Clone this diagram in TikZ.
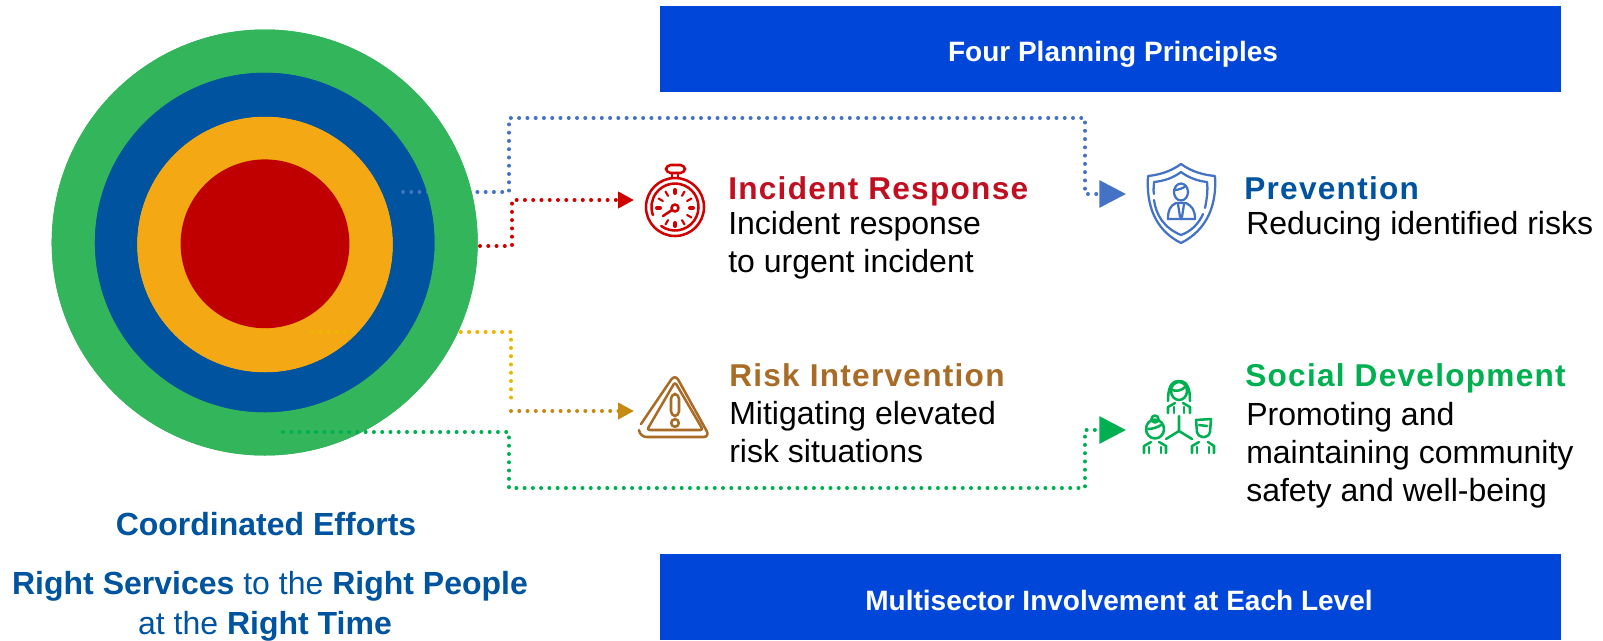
\documentclass[tikz,border=0pt]{standalone}
\usepackage{fontspec}
\setmainfont{Liberation Sans}
\newfontfamily\headfont[LetterSpace=4]{Liberation Sans}
\usetikzlibrary{arrows.meta}
\definecolor{ringgreen}{HTML}{33B55B}
\definecolor{ringblue}{HTML}{00549F}
\definecolor{ringorange}{HTML}{F4A813}
\definecolor{ringred}{HTML}{C00000}
\definecolor{barblue}{HTML}{0047D9}
\definecolor{linkblue}{HTML}{4472C4}
\definecolor{linkred}{HTML}{D00000}
\definecolor{linkyellow}{HTML}{F0B400}
\definecolor{linkgold}{HTML}{C58A10}
\definecolor{linkgreen}{HTML}{00B050}
\definecolor{headred}{HTML}{C00F20}
\definecolor{headbrown}{HTML}{A86C26}
\tikzset{
  x=0.75pt,y=-0.75pt,
  disc/.style={circle,inner sep=0pt,outer sep=0pt},
  bar/.style={fill=barblue,text=white,inner sep=0pt,outer sep=0pt,font=\bfseries\fontsize{21}{24}\selectfont},
  link/.style={line width=3pt,line cap=round,dash pattern=on 0pt off 6.2pt},
  bigtip/.style={-{Triangle[length=20pt,width=20pt]}},
  smalltip/.style={-{Triangle[length=12pt,width=12pt]}},
  head/.style={anchor=base west,inner sep=0pt,font=\headfont\bfseries\fontsize{23.7}{28}\selectfont},
  body/.style={anchor=base west,inner sep=0pt,align=left,font=\fontsize{24}{28.5}\selectfont},
  caption/.style={anchor=base,inner sep=0pt,text=ringblue,font=\fontsize{24}{28}\selectfont},
  icon/.style={line width=1.9pt,line cap=round,line join=round},
}
\begin{document}
\begin{tikzpicture}
\useasboundingbox (0,0) rectangle (1603,640);
% rings
\node[disc,fill=ringgreen,minimum size=319.5pt] (green) at (264.7,242.5) {};
\node[disc,fill=ringblue,minimum size=255pt] (blue) at (264.7,242.5) {};
\node[disc,fill=ringorange,minimum size=192pt] (orange) at (265,244.5) {};
\node[disc,fill=ringred,minimum size=126.6pt] (red) at (265,243.8) {};
% anchors of the connectors
\coordinate (bs) at (403,192);
\coordinate (rs) at (480,246);
\coordinate (ys) at (312,332);
\coordinate (gs) at (283,432);
\coordinate (bt) at (1126,194);
\coordinate (rt) at (634,200);
\coordinate (yt) at (634,411);
\coordinate (gt) at (1126,430);
\coordinate (ym) at (511,405);
\coordinate (yn) at (511,411);
% yellow runs under the blue and green rings
\draw[link,draw=linkyellow] (ys) -| (ym);
\fill[ringblue,even odd rule] (265,244.5) circle[radius=128] (264.7,242.5) circle[radius=170];
\draw[link,draw=linkblue,bigtip] (bs) -- (509,192) -- (509,118) -- (1085,118) -- (1085,194) -- (bt);
\fill[ringgreen,even odd rule] (264.7,242.5) circle[radius=170] (264.7,242.5) circle[radius=213];
\draw[link,draw=linkgold,smalltip] (yn) -- (yt);
\draw[link,draw=linkred,smalltip] (rs) -- (512,246) -- (512,200) -- (rt);
\draw[link,draw=linkgreen,bigtip] (gs) -- (509,432) -- (509,488) -- (1085,488) -- (1085,430) -- (gt);
% bars
\node[bar,minimum width=676pt,minimum height=64.5pt] (top) at (1110.5,49) {};
\node[bar] (toptext) at (1113,54) {Four Planning Principles};
\node[bar,minimum width=676pt,minimum height=64.5pt] (bottom) at (1110.5,597) {};
\node[bar] (bottomtext) at (1119,600) {Multisector Involvement at Each Level};
% text
\node[head,text=headred] (h1) at (728,199) {Incident Response};
\node[body] (b1) at (728,272) {Incident response\\to urgent incident};
\node[head,text=ringblue] (h2) at (1244,199) {Prevention};
\node[body] (b2) at (1246,234) {Reducing identified risks};
\node[head,text=headbrown] (h3) at (729,386) {Risk Intervention};
\node[body] (b3) at (729,462) {Mitigating elevated\\risk situations};
\node[head,text=linkgreen] (h4) at (1245,386) {Social Development};
\node[body] (b4) at (1246,501) {Promoting and\\maintaining community\\safety and well-being};
\node[caption] (c1) at (266,535) {\textbf{Coordinated Efforts}};
\node[caption] (c2) at (270,594) {\textbf{Right Services} to the \textbf{Right People}};
\node[caption] (c3) at (265,634) {at the \textbf{Right Time}};
% stopwatch
\begin{scope}[icon,draw=linkred]
\draw (675,207) circle[radius=29];
\draw (675,207) ++(126:23.5) arc[start angle=126,end angle=-200,radius=23.5];
\draw[rounded corners=3.5] (666,165) rectangle (685,173);
\draw (672,173) -- (672,178) (678,173) -- (678,178);
\foreach \a in {30,60,120,-30,-60,-120,-150}
  \draw[line width=1.6pt] (675,208) ++(\a:14) -- ++(\a:5);
\foreach \a in {0,90,180,270}
  \draw[line width=3pt] (675,208) ++(\a:15) -- ++(\a:3);
\draw (675,208) circle[radius=3.5];
\draw (672,210) -- (663,216);
\end{scope}
% shield
\begin{scope}[icon,draw=linkblue,line width=1.7pt]
\draw (1181,164) .. controls (1170,172) and (1158,175) .. (1148,176) .. controls (1146,205) and (1155,230) .. (1181,243) .. controls (1207,230) and (1217,205) .. (1215,176) .. controls (1204,175) and (1192,172) .. (1181,164) -- cycle;
\draw (1154,194) .. controls (1153,190) and (1154,186) .. (1154,182) .. controls (1164,181) and (1173,178) .. (1181,172) .. controls (1189,178) and (1198,181) .. (1207,182) .. controls (1208,190) and (1207,198) .. (1205,208);
\draw (1154,200) .. controls (1156,215) and (1164,228) .. (1181,235) .. controls (1192,231) and (1199,223) .. (1203,214);
\draw (1181,192) ellipse[x radius=7,y radius=8.5];
\draw (1174,190) .. controls (1179,190) and (1183,188) .. (1186,186);
\draw (1168,219) .. controls (1168,210) and (1170,206) .. (1176,203) -- (1186,203) .. controls (1192,206) and (1195,210) .. (1195,219) -- cycle;
\draw (1178,204) -- (1180,217) -- (1182,217) -- (1184,204);
\end{scope}
% warning triangle
\begin{scope}[icon,draw=headbrown]
\draw[rounded corners=5] (641,424) -- (675,374) -- (710,437) -- (640,437) -- (639,430);
\draw[rounded corners=2] (647,430) -- (675,382) -- (703,430) -- cycle;
\draw[rounded corners=3.5] (671,394) rectangle (679,416);
\draw (675,423) circle[radius=3.8];
\end{scope}
% people
\begin{scope}[icon,draw=linkgreen]
\draw (1179,391) ellipse[x radius=8,y radius=9];
\draw (1168,401) .. controls (1168,390) and (1170,381) .. (1179,381) .. controls (1188,381) and (1190,390) .. (1190,401);
\draw (1172,390) .. controls (1177,392) and (1182,390) .. (1185,387);
\draw (1168,413) -- (1168,407) -- (1175,403) (1183,403) -- (1190,407) -- (1190,413);
\draw (1174,407) -- (1174,413) (1184,407) -- (1184,413);
\draw (1179,416) -- (1179,431) -- (1166,439) (1179,431) -- (1192,439);
\draw (1155,429) ellipse[x radius=9,y radius=9.5];
\draw (1155,419) circle[radius=3.5];
\draw (1148,429) .. controls (1153,429) and (1158,427) .. (1161,425);
\draw (1144,453) -- (1144,446) -- (1151,442) (1159,442) -- (1166,446) -- (1166,453);
\draw (1149,447) -- (1149,453) (1161,447) -- (1161,453);
\draw (1196,420) -- (1211,419) -- (1210,432) .. controls (1208,439) and (1199,439) .. (1197,432) -- cycle;
\draw (1199,425) -- (1207,426);
\draw (1192,453) -- (1192,446) -- (1199,442) (1208,442) -- (1214,446) -- (1214,453);
\draw (1197,447) -- (1197,453) (1209,447) -- (1209,453);
\end{scope}
\end{tikzpicture}
\end{document}
